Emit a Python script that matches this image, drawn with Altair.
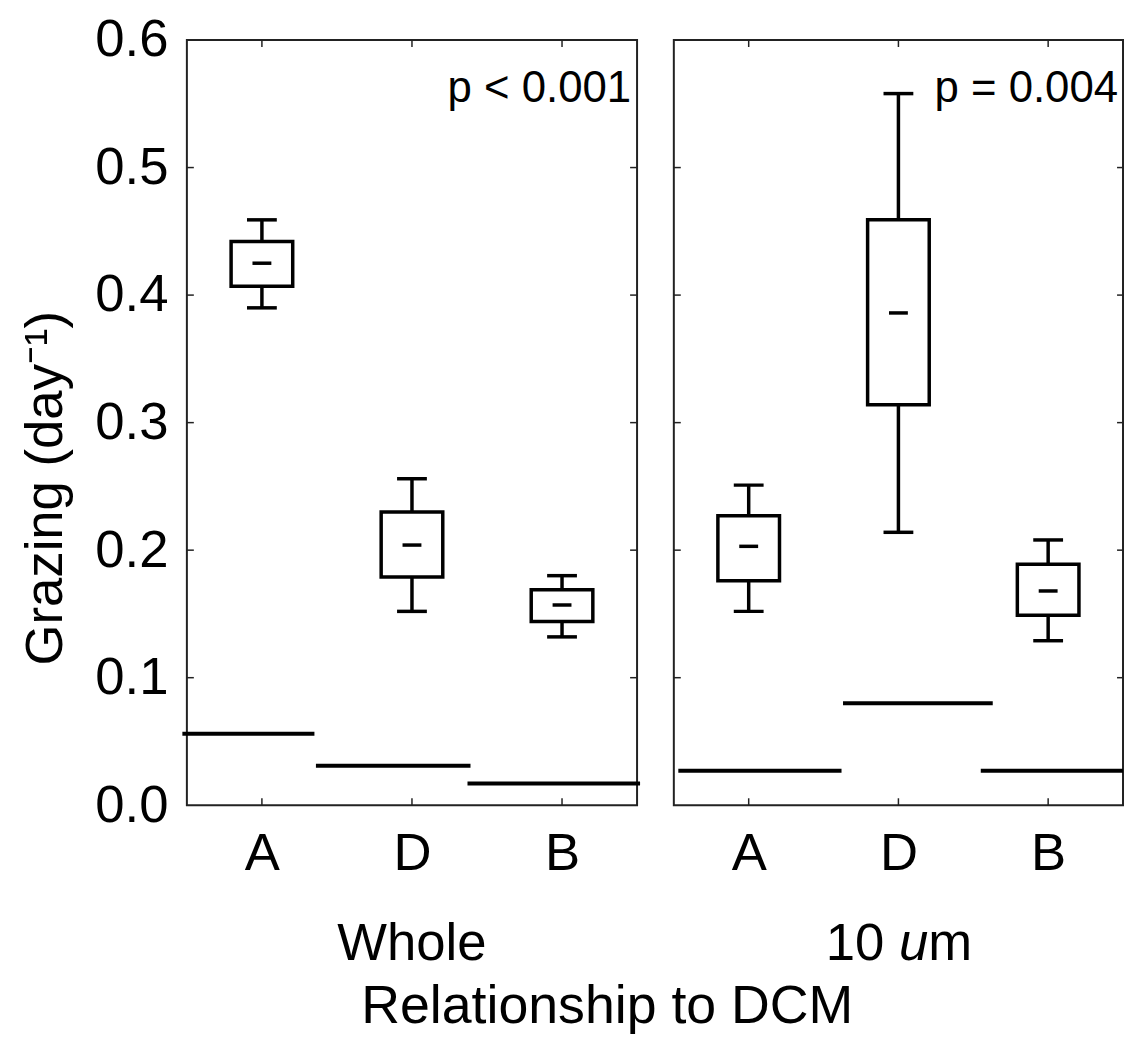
import altair as alt
import pandas as pd

FONT = "Liberation Sans"

# ---------------- data ----------------
categories = ["A", "D", "B"]
cat_pos = [1, 2, 3]

whole_lo = [0.390, 0.152, 0.132]
whole_q1 = [0.407, 0.179, 0.144]
whole_med = [0.425, 0.204, 0.157]
whole_q3 = [0.442, 0.230, 0.169]
whole_hi = [0.459, 0.256, 0.180]

um_lo = [0.152, 0.214, 0.129]
um_q1 = [0.176, 0.314, 0.149]
um_med = [0.203, 0.386, 0.168]
um_q3 = [0.227, 0.459, 0.189]
um_hi = [0.251, 0.558, 0.208]

whole_ref_start = [0.47, 1.36, 2.37]
whole_ref_end = [1.35, 2.39, 3.52]
whole_ref_val = [0.056, 0.031, 0.017]

um_ref_start = [0.53, 1.63, 2.55]
um_ref_end = [1.62, 2.63, 3.50]
um_ref_val = [0.027, 0.080, 0.027]

y_ticks = [0.0, 0.1, 0.2, 0.3, 0.4, 0.5, 0.6]
y_inner_ticks = [0.1, 0.2, 0.3, 0.4, 0.5]
p_labels = ["p < 0.001", "p = 0.004"]
panel_titles = ["Whole", "10 um"]
y_title = "Grazing (day\u207b\u00b9)"
x_title = "Relationship to DCM"

W = 453
H = 770
BIG = 53

label_expr = " : ".join(
    [f"datum.value == {p} ? '{c}'" for p, c in zip(cat_pos[:-1], categories[:-1])]
) + f" : '{categories[-1]}'"


def xenc(field):
    return alt.X(
        field,
        type="quantitative",
        scale=alt.Scale(domain=[0.5, 3.5], nice=False, zero=False, padding=0),
        axis=alt.Axis(
            values=cat_pos, labelExpr=label_expr, ticks=False, domain=False,
            grid=False, title=None, labelFontSize=BIG, labelPadding=23,
            labelColor="black", labelFont=FONT,
        ),
    )


def yenc(field, show):
    ax = alt.Axis(
        values=y_ticks, format=".1f", ticks=False, domain=False, grid=False,
        title=None, labelFontSize=BIG, labelPadding=19, labelColor="black",
        labelFont=FONT,
    ) if show else None
    return alt.Y(
        field, type="quantitative",
        scale=alt.Scale(domain=[0, 0.6], nice=False, zero=False, padding=0),
        axis=ax,
    )


def panel(lo, q1, med, q3, hi, rs, re, rv, p_label, left):
    df = pd.DataFrame({"pos": cat_pos, "lo": lo, "q1": q1, "med": med, "q3": q3, "hi": hi})
    ref = pd.DataFrame({"s": rs, "e": re, "v": rv})
    base = alt.Chart(df)
    boxes = base.mark_bar(fill="white", stroke="black", strokeWidth=3.5, size=62).encode(
        x=xenc("pos"), y=yenc("q1", left), y2="q3"
    )
    wh_top = base.mark_rule(color="black", strokeWidth=3.5).encode(
        x=xenc("pos"), y=yenc("q3", left), y2="hi"
    )
    wh_bot = base.mark_rule(color="black", strokeWidth=3.5).encode(
        x=xenc("pos"), y=yenc("lo", left), y2="q1"
    )
    cap_top = base.mark_tick(color="black", orient="horizontal", size=30, thickness=3.5, opacity=1).encode(
        x=xenc("pos"), y=yenc("hi", left)
    )
    cap_bot = base.mark_tick(color="black", orient="horizontal", size=30, thickness=3.5, opacity=1).encode(
        x=xenc("pos"), y=yenc("lo", left)
    )
    medm = base.mark_tick(color="black", orient="horizontal", size=19, thickness=3.5, opacity=1).encode(
        x=xenc("pos"), y=yenc("med", left)
    )
    refl = alt.Chart(ref).mark_rule(color="black", strokeWidth=4, clip=False).encode(
        x=xenc("s"), x2="e", y=yenc("v", left)
    )
    yt = alt.Chart(pd.DataFrame({"t": y_inner_ticks}))
    ytl = yt.mark_rule(color="#222", strokeWidth=1.5).encode(
        y=yenc("t", left), x=alt.value(0), x2=alt.value(7)
    )
    ytr = yt.mark_rule(color="#222", strokeWidth=1.5).encode(
        y=yenc("t", left), x=alt.value(W - 7), x2=alt.value(W)
    )
    xt = alt.Chart(pd.DataFrame({"c": cat_pos}))
    xtb = xt.mark_rule(color="#222", strokeWidth=1.5).encode(
        x=xenc("c"), y=alt.value(H - 7), y2=alt.value(H)
    )
    xtt = xt.mark_rule(color="#222", strokeWidth=1.5).encode(
        x=xenc("c"), y=alt.value(0), y2=alt.value(7)
    )
    ptxt = alt.Chart(pd.DataFrame({"t": [p_label]})).mark_text(
        align="right", baseline="alphabetic", fontSize=44, font=FONT, color="black"
    ).encode(x=alt.value(W - 6), y=alt.value(62), text="t:N")
    return [refl, wh_top, wh_bot, cap_top, cap_bot, boxes, medm, ytl, ytr, xtb, xtt, ptxt]


left_layers = panel(whole_lo, whole_q1, whole_med, whole_q3, whole_hi,
                    whole_ref_start, whole_ref_end, whole_ref_val, p_labels[0], True)
right_layers = panel(um_lo, um_q1, um_med, um_q3, um_hi,
                     um_ref_start, um_ref_end, um_ref_val, p_labels[1], False)

TXT = dict(fontSize=BIG, font=FONT, color="black", baseline="alphabetic")
SUB_Y = 926

whole_t = alt.Chart(pd.DataFrame({"t": [panel_titles[0]]})).mark_text(align="center", **TXT).encode(
    x=alt.value(W / 2), y=alt.value(SUB_Y), text="t:N")
ytitle = alt.Chart(pd.DataFrame({"t": [y_title]})).mark_text(
    align="center", angle=270, fontSize=BIG, font=FONT, color="black", baseline="alphabetic"
).encode(x=alt.value(-126), y=alt.value(451), text="t:N")

# "10 um" with italic u
parts = ["10 ", "u", "m"]
fs = BIG
w10 = (0.556 * 2 + 0.278) * fs
wu = 0.556 * fs
wm = 0.833 * fs
x0 = W / 2 - (w10 + wu + wm) / 2
um_a = alt.Chart(pd.DataFrame({"t": [parts[0]]})).mark_text(align="left", **TXT).encode(
    x=alt.value(x0), y=alt.value(SUB_Y), text="t:N")
um_b = alt.Chart(pd.DataFrame({"t": [parts[1]]})).mark_text(align="left", fontStyle="italic", **TXT).encode(
    x=alt.value(x0 + w10), y=alt.value(SUB_Y), text="t:N")
um_c = alt.Chart(pd.DataFrame({"t": [parts[2]]})).mark_text(align="left", **TXT).encode(
    x=alt.value(x0 + w10 + wu), y=alt.value(SUB_Y), text="t:N")

left = alt.layer(*left_layers, whole_t, ytitle).properties(width=W, height=H)
right = alt.layer(*right_layers, um_a, um_b, um_c).properties(width=W - 1, height=H)

chart = alt.hconcat(left, right, spacing=28).properties(
    padding={"top": 2, "left": 11, "right": -1, "bottom": 0},
    background="white",
    title=alt.TitleParams(
        x_title, orient="bottom", anchor="start", align="center", dx=592,
        offset=51, baseline="alphabetic",
        fontSize=54, font=FONT, color="black", fontWeight="normal",
    ),
).configure(font=FONT).configure_view(stroke="#222", strokeWidth=2)

chart.save("out.html", embed_options={"renderer": "svg", "actions": False})
